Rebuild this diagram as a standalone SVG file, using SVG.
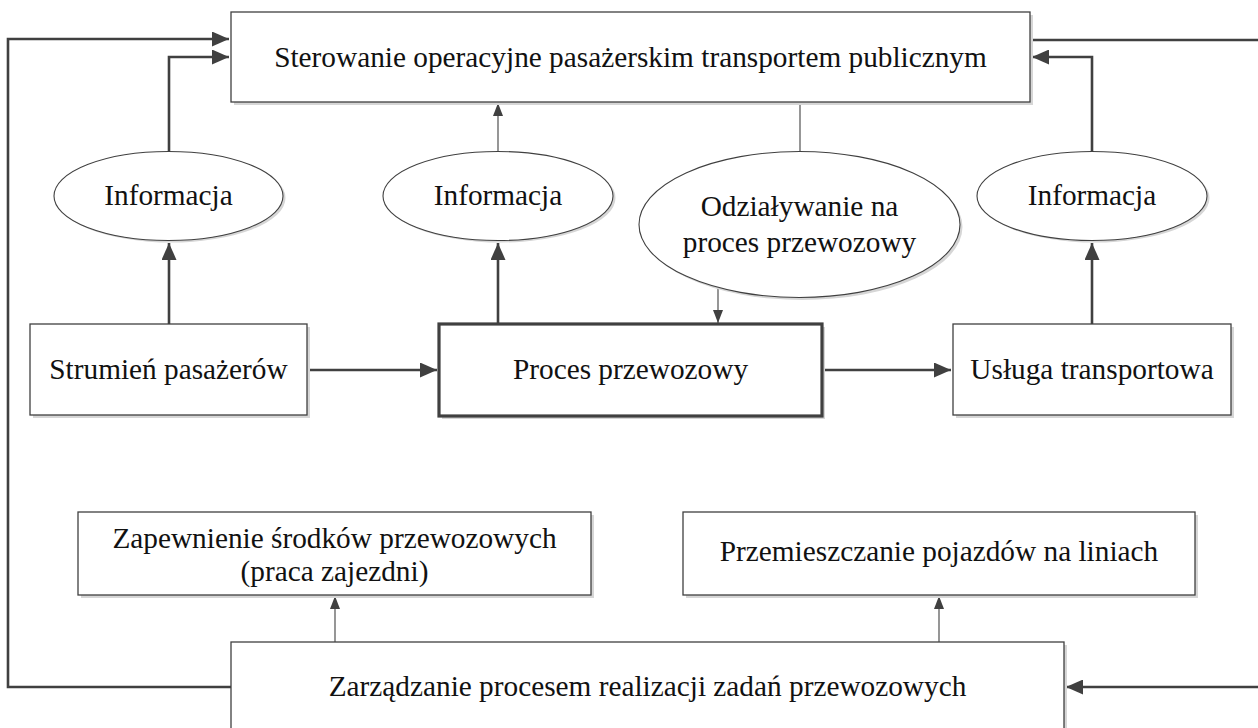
<svg xmlns="http://www.w3.org/2000/svg" width="1258" height="728" viewBox="0 0 1258 728">
<style>
.box{fill:#fff;stroke:#404040;stroke-width:1.3}
.bold{fill:#fff;stroke:#404040;stroke-width:3.2}
.sh{fill:#d6d6d6}
.ell{fill:#fff;stroke:#404040;stroke-width:1.1}
.t{font-family:"Liberation Serif","Times New Roman",serif;font-size:29.3px;fill:#111;text-anchor:middle}
.thick{fill:none;stroke:#404040;stroke-width:2.6}
.thin{fill:none;stroke:#404040;stroke-width:1.1}
</style>
<defs>
<marker id="ah" markerUnits="userSpaceOnUse" markerWidth="17" markerHeight="15" refX="17" refY="7.5" orient="auto">
<path d="M0,0 L17,7.5 L0,15 z" fill="#404040"/>
</marker>
<marker id="as" markerUnits="userSpaceOnUse" markerWidth="13" markerHeight="10" refX="13" refY="5" orient="auto">
<path d="M0,0 L13,5 L0,10 z" fill="#404040"/>
</marker>
</defs>

<g id="connectors">
<polyline class="thick" points="231,687 8,687 8,39 229,39" marker-end="url(#ah)"/>
<polyline class="thick" points="169,151 169,57 229,57" marker-end="url(#ah)"/>
<polyline class="thick" points="1092,151 1092,57 1032,57" marker-end="url(#ah)"/>
<line class="thick" x1="1030" y1="40" x2="1258" y2="40"/>
<line class="thick" x1="1258" y1="687" x2="1066" y2="687" marker-end="url(#ah)"/>
<line class="thick" x1="307" y1="370" x2="437" y2="370" marker-end="url(#ah)"/>
<line class="thick" x1="822" y1="370" x2="951" y2="370" marker-end="url(#ah)"/>
<line class="thick" x1="169" y1="324" x2="169" y2="243" marker-end="url(#ah)"/>
<line class="thick" x1="498" y1="324" x2="498" y2="243" marker-end="url(#ah)"/>
<line class="thick" x1="1092" y1="324" x2="1092" y2="243" marker-end="url(#ah)"/>
<line class="thin" x1="498" y1="151" x2="498" y2="103" marker-end="url(#as)"/>
<line class="thin" x1="800" y1="102" x2="800" y2="151"/>
<line class="thin" x1="718" y1="288" x2="718" y2="323" marker-end="url(#as)"/>
<line class="thin" x1="335" y1="642" x2="335" y2="596" marker-end="url(#as)"/>
<line class="thin" x1="939" y1="642" x2="939" y2="596" marker-end="url(#as)"/>
</g>

<g id="sterowanie">
<rect class="sh" x="234" y="15" width="799" height="90"/>
<rect class="box" x="231" y="12" width="799" height="90"/>
<text class="t" x="630.5" y="67">Sterowanie operacyjne pasażerskim transportem publicznym</text>
</g>

<g id="info1">
<ellipse class="sh" cx="171" cy="198" rx="114.5" ry="44.5"/>
<ellipse class="ell" cx="168.5" cy="196" rx="114.5" ry="44.5"/>
<text class="t" x="168.5" y="205">Informacja</text>
</g>

<g id="info2">
<ellipse class="sh" cx="500.5" cy="198" rx="115" ry="44.5"/>
<ellipse class="ell" cx="498" cy="196" rx="115" ry="44.5"/>
<text class="t" x="498" y="205">Informacja</text>
</g>

<g id="oddzialywanie">
<ellipse class="sh" cx="802" cy="227" rx="160.5" ry="73"/>
<ellipse class="ell" cx="799.5" cy="224.5" rx="160.5" ry="73"/>
<text class="t" x="799.5" y="216">Odziaływanie na</text>
<text class="t" x="799.5" y="252">proces przewozowy</text>
</g>

<g id="info3">
<ellipse class="sh" cx="1094.5" cy="198" rx="115" ry="44.5"/>
<ellipse class="ell" cx="1092" cy="196" rx="115" ry="44.5"/>
<text class="t" x="1092" y="205">Informacja</text>
</g>

<g id="strumien">
<rect class="sh" x="33" y="327" width="277" height="91"/>
<rect class="box" x="30" y="324" width="277" height="91"/>
<text class="t" x="168.5" y="379">Strumień pasażerów</text>
</g>

<g id="proces">
<rect class="sh" x="442" y="327" width="383" height="92"/>
<rect class="bold" x="439" y="324" width="383" height="92"/>
<text class="t" x="630.5" y="379">Proces przewozowy</text>
</g>

<g id="usluga">
<rect class="sh" x="956" y="327" width="278" height="91"/>
<rect class="box" x="953" y="324" width="278" height="91"/>
<text class="t" x="1092" y="379">Usługa transportowa</text>
</g>

<g id="zapewnienie">
<rect class="sh" x="81" y="515" width="513" height="83"/>
<rect class="box" x="78" y="512" width="513" height="83"/>
<text class="t" x="334.5" y="548">Zapewnienie środków przewozowych</text>
<text class="t" x="334.5" y="581">(praca zajezdni)</text>
</g>

<g id="przemieszczanie">
<rect class="sh" x="686" y="515" width="512" height="83"/>
<rect class="box" x="683" y="512" width="512" height="83"/>
<text class="t" x="939" y="561">Przemieszczanie pojazdów na liniach</text>
</g>

<g id="zarzadzanie">
<rect class="sh" x="234" y="645" width="833" height="100"/>
<rect class="box" x="231" y="642" width="833" height="100"/>
<text class="t" x="647.5" y="696">Zarządzanie procesem realizacji zadań przewozowych</text>
</g>
</svg>
